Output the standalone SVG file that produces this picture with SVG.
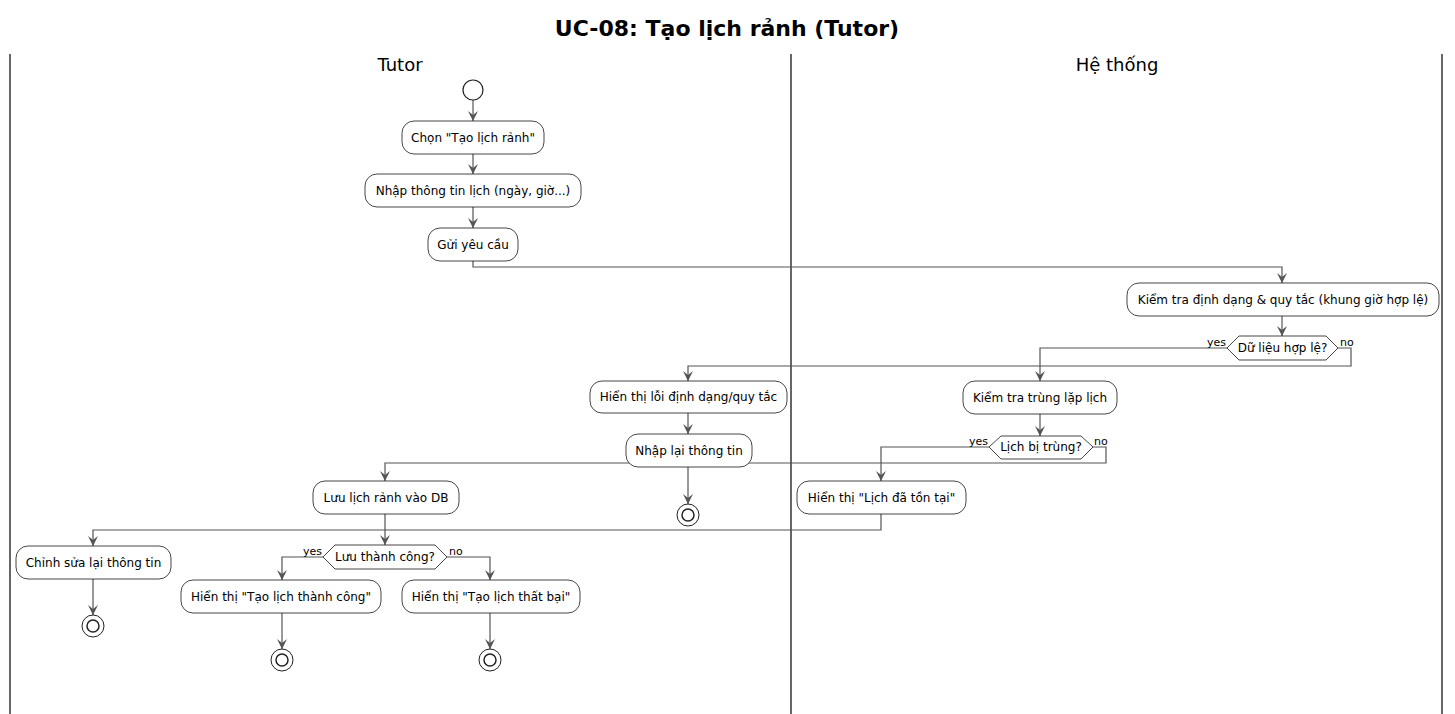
<svg xmlns="http://www.w3.org/2000/svg" width="1455" height="714" viewBox="0 0 1455 714">
<defs>
<style>
.box{fill:#ffffff;stroke:#181818;stroke-width:0.8}
.dia{fill:#ffffff;stroke:#181818;stroke-width:0.8}
.t{font-family:"DejaVu Sans",sans-serif;font-size:12px;fill:#000;text-anchor:middle}
.lbl{font-family:"DejaVu Sans",sans-serif;font-size:11px;fill:#000}
.lane{stroke:#000;stroke-width:1.2}
.c{fill:none;stroke:#555555;stroke-width:1.2}
.start{fill:#ffffff;stroke:#222;stroke-width:1.2}
.endo{fill:#ffffff;stroke:#222;stroke-width:1}
.endi{fill:#ffffff;stroke:#222;stroke-width:1.5}
</style>
<marker id="ah" viewBox="0 0 10 10" refX="10" refY="5" markerWidth="10" markerHeight="10" markerUnits="userSpaceOnUse" orient="auto">
<polygon points="0,0 10,5 0,10 4,5" fill="#555555"/>
</marker>
</defs>
<rect x="0" y="0" width="1455" height="714" fill="#ffffff"/>
<text x="727" y="36" font-family="DejaVu Sans,sans-serif" font-size="22" font-weight="bold" text-anchor="middle">UC-08: Tạo lịch rảnh (Tutor)</text>
<g id="lanes">
<line class="lane" x1="10" y1="54" x2="10" y2="714"/>
<line class="lane" x1="791" y1="54" x2="791" y2="714"/>
<line class="lane" x1="1442" y1="54" x2="1442" y2="714"/>
<text x="400" y="71" font-family="DejaVu Sans,sans-serif" font-size="18" text-anchor="middle">Tutor</text>
<text x="1117" y="71" font-family="DejaVu Sans,sans-serif" font-size="18" text-anchor="middle">Hệ thống</text>
</g>
<g id="connectors">
<path class="c" d="M473,100 V121" marker-end="url(#ah)"/>
<path class="c" d="M473,154 V174" marker-end="url(#ah)"/>
<path class="c" d="M473,207 V228" marker-end="url(#ah)"/>
<path class="c" d="M473,261 V267 H1282 V283" marker-end="url(#ah)"/>
<path class="c" d="M1282,316 V336" marker-end="url(#ah)"/>
<path class="c" d="M1227,348 H1040 V381" marker-end="url(#ah)"/>
<path class="c" d="M1338,348 H1351 V366 H688 V381" marker-end="url(#ah)"/>
<path class="c" d="M688,413 V434" marker-end="url(#ah)"/>
<path class="c" d="M688,467 V504" marker-end="url(#ah)"/>
<path class="c" d="M1040,414 V436" marker-end="url(#ah)"/>
<path class="c" d="M989,447 H881 V481" marker-end="url(#ah)"/>
<path class="c" d="M1093,447 H1106 V463 H385 V481" marker-end="url(#ah)"/>
<path class="c" d="M881,514 V530 H93 V546" marker-end="url(#ah)"/>
<path class="c" d="M385,514 V545" marker-end="url(#ah)"/>
<path class="c" d="M93,579 V615" marker-end="url(#ah)"/>
<path class="c" d="M323,557 H282 V580" marker-end="url(#ah)"/>
<path class="c" d="M447,557 H490 V580" marker-end="url(#ah)"/>
<path class="c" d="M282,613 V649" marker-end="url(#ah)"/>
<path class="c" d="M490,613 V649" marker-end="url(#ah)"/>
<text class="lbl" x="1226" y="346" text-anchor="end">yes</text>
<text class="lbl" x="1340" y="346">no</text>
<text class="lbl" x="988" y="445" text-anchor="end">yes</text>
<text class="lbl" x="1094" y="445">no</text>
<text class="lbl" x="322" y="555" text-anchor="end">yes</text>
<text class="lbl" x="449" y="555">no</text>
</g>
<g id="start"><circle class="start" cx="473" cy="90" r="10"/></g>
<g id="n1"><rect class="box" x="402" y="121" width="142" height="33" rx="12"/><text class="t" x="473" y="142">Chọn "Tạo lịch rảnh"</text></g>
<g id="n2"><rect class="box" x="365" y="174" width="216" height="33" rx="12"/><text class="t" x="473" y="195">Nhập thông tin lịch (ngày, giờ...)</text></g>
<g id="n3"><rect class="box" x="428" y="228" width="90" height="33" rx="12"/><text class="t" x="473" y="249">Gửi yêu cầu</text></g>
<g id="n4"><rect class="box" x="1127" y="283" width="312" height="33" rx="12"/><text class="t" x="1283" y="304">Kiểm tra định dạng &amp; quy tắc (khung giờ hợp lệ)</text></g>
<g id="d1"><polygon class="dia" points="1227,348 1239,336 1326,336 1338,348 1326,360 1239,360"/><text class="t" x="1282.5" y="352">Dữ liệu hợp lệ?</text></g>
<g id="n5"><rect class="box" x="590" y="381" width="197" height="32" rx="12"/><text class="t" x="688.5" y="401">Hiển thị lỗi định dạng/quy tắc</text></g>
<g id="n6"><rect class="box" x="626" y="434" width="126" height="33" rx="12"/><text class="t" x="689" y="455">Nhập lại thông tin</text></g>
<g id="e1"><circle class="endo" cx="688" cy="515" r="11"/><circle class="endi" cx="688" cy="515" r="6"/></g>
<g id="n7"><rect class="box" x="963" y="381" width="154" height="33" rx="12"/><text class="t" x="1040" y="402">Kiểm tra trùng lặp lịch</text></g>
<g id="d2"><polygon class="dia" points="989,447 1001,436 1081,436 1093,447 1081,459 1001,459"/><text class="t" x="1041" y="451">Lịch bị trùng?</text></g>
<g id="n8"><rect class="box" x="797" y="481" width="169" height="33" rx="12"/><text class="t" x="881.5" y="502">Hiển thị "Lịch đã tồn tại"</text></g>
<g id="n9"><rect class="box" x="313" y="481" width="146" height="33" rx="12"/><text class="t" x="386" y="502">Lưu lịch rảnh vào DB</text></g>
<g id="n10"><rect class="box" x="16" y="546" width="155" height="33" rx="12"/><text class="t" x="93.5" y="567">Chỉnh sửa lại thông tin</text></g>
<g id="e2"><circle class="endo" cx="93" cy="626" r="11"/><circle class="endi" cx="93" cy="626" r="6"/></g>
<g id="d3"><polygon class="dia" points="323,557 335,545 435,545 447,557 435,569 335,569"/><text class="t" x="385" y="561">Lưu thành công?</text></g>
<g id="n11"><rect class="box" x="181" y="580" width="200" height="33" rx="12"/><text class="t" x="281" y="601">Hiển thị "Tạo lịch thành công"</text></g>
<g id="n12"><rect class="box" x="402" y="580" width="178" height="33" rx="12"/><text class="t" x="491" y="601">Hiển thị "Tạo lịch thất bại"</text></g>
<g id="e3"><circle class="endo" cx="282" cy="660" r="11"/><circle class="endi" cx="282" cy="660" r="6"/></g>
<g id="e4"><circle class="endo" cx="490" cy="660" r="11"/><circle class="endi" cx="490" cy="660" r="6"/></g>
</svg>
